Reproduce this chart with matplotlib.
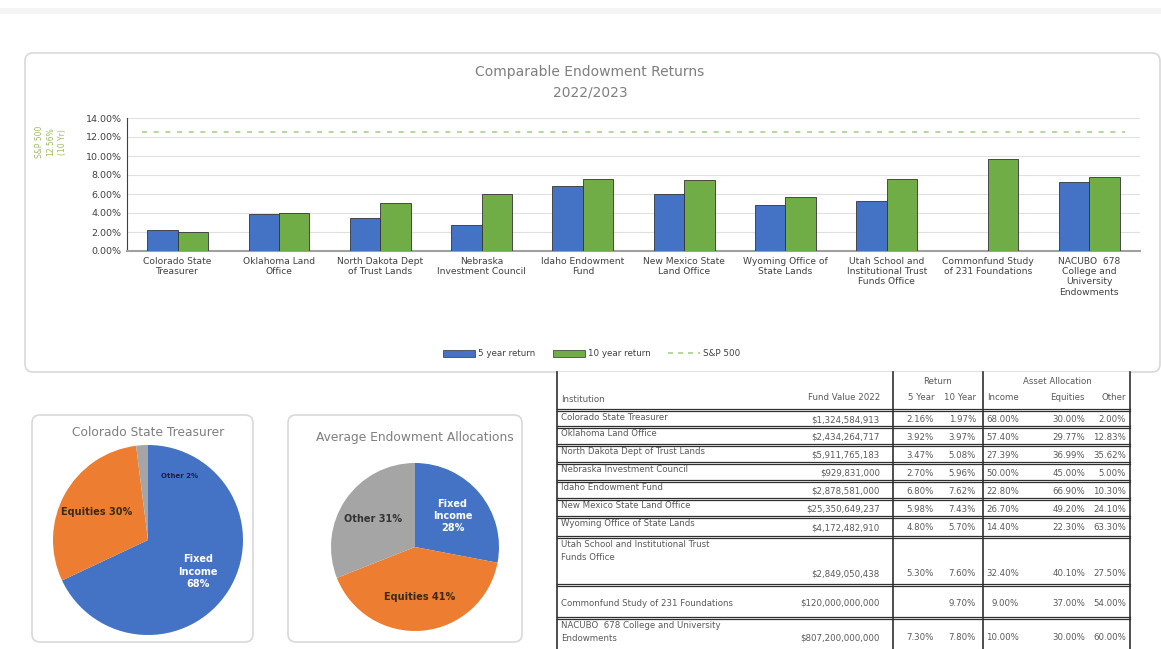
import numpy as np
import matplotlib
matplotlib.use('Agg')
import matplotlib.pyplot as plt
from matplotlib.patches import FancyBboxPatch, Patch
from matplotlib.lines import Line2D

# ---- data ----
institutions = ['Colorado State\nTreasurer', 'Oklahoma Land\nOffice', 'North Dakota Dept\nof Trust Lands',
                'Nebraska\nInvestment Council', 'Idaho Endowment\nFund', 'New Mexico State\nLand Office',
                'Wyoming Office of\nState Lands', 'Utah School and\nInstitutional Trust\nFunds Office',
                'Commonfund Study\nof 231 Foundations', 'NACUBO  678\nCollege and\nUniversity\nEndowments']
ret_5yr = [2.16, 3.92, 3.47, 2.70, 6.80, 5.98, 4.80, 5.30, np.nan, 7.30]
ret_10yr = [1.97, 3.97, 5.08, 5.96, 7.62, 7.43, 5.70, 7.60, 9.70, 7.80]
sp500 = 12.56
yticks = [0, 2, 4, 6, 8, 10, 12, 14]

co_labels = ['Fixed\nIncome\n68%', 'Equities 30%', 'Other 2%']
co_alloc = [68, 30, 2]
avg_labels = ['Fixed\nIncome\n28%', 'Equities 41%', 'Other 31%']
avg_alloc = [28, 41, 31]

tbl_names = ['Colorado State Treasurer', 'Oklahoma Land Office', 'North Dakota Dept of Trust Lands',
             'Nebraska Investment Council', 'Idaho Endowment Fund', 'New Mexico State Land Office',
             'Wyoming Office of State Lands', 'Utah School and Institutional Trust\nFunds Office',
             'Commonfund Study of 231 Foundations', 'NACUBO  678 College and University\nEndowments']
tbl_value = ['$1,324,584,913', '$2,434,264,717', '$5,911,765,183', '$929,831,000', '$2,878,581,000',
             '$25,350,649,237', '$4,172,482,910', '$2,849,050,438', '$120,000,000,000', '$807,200,000,000']
tbl_5yr = ['2.16%', '3.92%', '3.47%', '2.70%', '6.80%', '5.98%', '4.80%', '5.30%', '', '7.30%']
tbl_10yr = ['1.97%', '3.97%', '5.08%', '5.96%', '7.62%', '7.43%', '5.70%', '7.60%', '9.70%', '7.80%']
tbl_income = ['68.00%', '57.40%', '27.39%', '50.00%', '22.80%', '26.70%', '14.40%', '32.40%', '9.00%', '10.00%']
tbl_equity = ['30.00%', '29.77%', '36.99%', '45.00%', '66.90%', '49.20%', '22.30%', '40.10%', '37.00%', '30.00%']
tbl_other = ['2.00%', '12.83%', '35.62%', '5.00%', '10.30%', '24.10%', '63.30%', '27.50%', '54.00%', '60.00%']

BLUE = '#4472C4'
GREEN = '#70AD47'
ORANGE = '#ED7D31'
GRAY = '#A5A5A5'
TXT = '#595959'

W, H = 1161, 649
fig = plt.figure(figsize=(W / 100, H / 100), dpi=100)
fig.patch.set_facecolor('white')

# overlay in pixel coords for panels and table
bg = fig.add_axes([0, 0, 1, 1], zorder=0)
bg.set_xlim(0, W)
bg.set_ylim(H, 0)
bg.axis('off')
bg.axhspan(8, 14, color='#f4f4f4', lw=0)


def panel(x0, y0, x1, y1):
    bg.add_patch(FancyBboxPatch((x0, y0), x1 - x0, y1 - y0, boxstyle='round,pad=0,rounding_size=8',
                                fc='white', ec='#d9d9d9', lw=1.2))


panel(25, 53, 1160, 372)
panel(32, 415, 253, 642)
panel(288, 415, 522, 642)

# ---- bar chart ----
ax = fig.add_axes([127 / W, 1 - 251 / H, 1013 / W, 133 / H], zorder=2)
x = np.arange(len(institutions))
bw = 0.3
ax.bar(x - bw / 2, ret_5yr, bw, color=BLUE, edgecolor='#333333', lw=0.6, zorder=3)
ax.bar(x + bw / 2, ret_10yr, bw, color=GREEN, edgecolor='#333333', lw=0.6, zorder=3)
ax.hlines(sp500, -0.35, len(x) - 0.65, colors='#A9D18E', linestyles=(0, (3, 4)), lw=1.2, zorder=3)
ax.set_xlim(-0.5, len(x) - 0.5)
ax.set_ylim(0, 14)
ax.set_yticks(yticks)
ax.set_yticklabels([f'{v:.2f}%' for v in yticks], fontsize=6.8, color='#404040')
ax.set_xticks(x)
ax.set_xticklabels(institutions, fontsize=6.6, color='#404040', va='top')
ax.tick_params(length=0, pad=4)
ax.grid(axis='y', color='#e0e0e0', lw=0.8, zorder=0)
ax.set_axisbelow(True)
for s in ['top', 'right']:
    ax.spines[s].set_visible(False)
ax.spines['left'].set_color('#404040')
ax.spines['bottom'].set_color('#a0a0a0')
ax.spines['bottom'].set_linewidth(1.5)
ax.set_facecolor('none')

bg.text(590, 72, 'Comparable Endowment Returns', ha='center', va='center', fontsize=10, color='#7f7f7f')
bg.text(590, 93, '2022/2023', ha='center', va='center', fontsize=10, color='#7f7f7f')
for xx, t in zip([39, 51, 63], ['S&P 500', '12.56%', '(10 Yr)']):
    bg.text(xx, 142, t, rotation=90, ha='center', va='center', fontsize=5.5, color='#9BBB59')

handles = [Patch(fc=BLUE, ec='#333333', lw=0.5), Patch(fc=GREEN, ec='#333333', lw=0.5),
           Line2D([], [], color='#A9D18E', ls=(0, (3, 3)), lw=1.2)]
fig.legend(handles, ['5 year return', '10 year return', 'S&P 500'], loc='center',
           bbox_to_anchor=(592 / W, 1 - 354 / H), ncol=3, frameon=False, fontsize=6.3,
           handlelength=3.6, handleheight=0.8, handletextpad=0.4, columnspacing=2,
           labelcolor='#404040')


# ---- pies ----
def draw_pie(cx, cy, r, vals, labels, title, ty, label_cols, label_pos, fs):
    pa = fig.add_axes([(cx - r) / W, 1 - (cy + r) / H, 2 * r / W, 2 * r / H], zorder=2)
    wedges, _ = pa.pie(vals, colors=[BLUE, ORANGE, GRAY], startangle=90, counterclock=False,
                       wedgeprops=dict(lw=0))
    for w, lab, col, (lr, dang), f in zip(wedges, labels, label_cols, label_pos, fs):
        ang = np.deg2rad((w.theta1 + w.theta2) / 2 + dang)
        pa.text(lr * np.cos(ang), lr * np.sin(ang), lab, ha='center', va='center',
                fontsize=f, color=col, fontweight='bold', linespacing=1.3)
    pa.set_xlim(-1, 1)
    pa.set_ylim(-1, 1)
    pa.set_aspect('equal')
    bg.text(cx, ty, title, ha='center', va='center', fontsize=8.8, color='#7f7f7f')


draw_pie(148, 540, 95, co_alloc, co_labels, 'Colorado State Treasurer', 432,
         ['white', '#3a2a10', '#1a2238'], [(0.62, 0), (0.62, 0), (0.75, -30)], [7, 7, 5])
draw_pie(415, 547, 84, avg_alloc, avg_labels, 'Average Endowment Allocations', 437,
         ['white', '#3a2a10', '#333333'], [(0.58, 0), (0.6, 0), (0.6, 0)], [7, 7, 7])

# ---- table ----
tx0, tx1 = 557, 1130
v1, v2 = 893, 983
row_y = [410, 427, 445, 463, 481, 499, 517, 537, 585, 618, 649]
lc = '#303030'
bg.add_patch(plt.Rectangle((tx0, 372), tx1 - tx0, H - 372, fc='white', ec='none', zorder=1))
bg.plot([tx0, tx0], [372, 649], color=lc, lw=1.2, zorder=2)
bg.plot([tx1, tx1], [372, 649], color=lc, lw=1.2, zorder=2)
for vx in [v1, v2]:
    bg.plot([vx, vx], [372, 649], color=lc, lw=1.2, zorder=2)
for yy in row_y[:-1]:
    bg.plot([tx0, tx1], [yy - 1, yy - 1], color=lc, lw=0.9, zorder=2)
    bg.plot([tx0, tx1], [yy + 1, yy + 1], color=lc, lw=0.9, zorder=2)

fs = 6.2
bg.text(938, 381, 'Return', ha='center', va='center', fontsize=fs, color=TXT)
bg.text(1057, 381, 'Asset Allocation', ha='center', va='center', fontsize=fs, color=TXT)
bg.text(561, 399, 'Institution', ha='left', va='center', fontsize=fs, color=TXT)
bg.text(880, 398, 'Fund Value 2022', ha='right', va='center', fontsize=fs, color=TXT)
for xx, t in zip([934, 976, 1019, 1085, 1126], ['5 Year', '10 Year', 'Income', 'Equities', 'Other']):
    bg.text(xx, 398, t, ha='right', va='center', fontsize=fs, color=TXT)

for i in range(len(tbl_names)):
    top, bot = row_y[i], row_y[i + 1]
    if '\n' in tbl_names[i]:
        ny = top + 14
        vy = bot - 11
    elif bot - top > 25:
        ny = bot - 15
        vy = bot - 15
    else:
        ny = top + 7
        vy = (top + bot) / 2 + 1
    bg.text(561, ny, tbl_names[i], ha='left', va='center', fontsize=fs, color=TXT, linespacing=1.6)
    bg.text(880, vy, tbl_value[i], ha='right', va='center', fontsize=fs, color=TXT)
    for xx, t in zip([934, 976, 1019, 1085, 1126],
                     [tbl_5yr[i], tbl_10yr[i], tbl_income[i], tbl_equity[i], tbl_other[i]]):
        bg.text(xx, vy, t, ha='right', va='center', fontsize=fs, color=TXT)

fig.savefig('out.png', dpi=100)
